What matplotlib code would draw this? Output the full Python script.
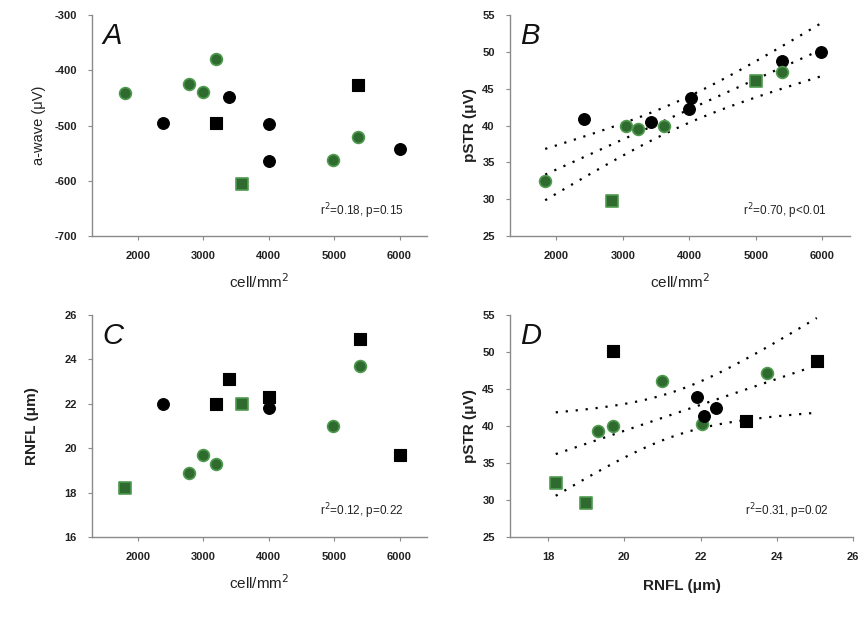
import numpy as np
import matplotlib.pyplot as plt

plt.rcParams['font.family'] = ['Liberation Sans', 'DejaVu Sans']
plt.rcParams['axes.unicode_minus'] = False

GREEN = '#2f6b2f'
GREEN_EDGE = '#4f9a4f'

# panel A: a-wave vs cell density
a_x = [1800, 2380, 2790, 3000, 3190, 3200, 3390, 3600, 4000, 4000, 4990, 5370, 5370, 6000]
a_y = [-442, -495, -424, -440, -380, -495, -449, -605, -498, -565, -562, -520, -427, -542]
a_c = ['g', 'k', 'g', 'g', 'g', 'k', 'k', 'g', 'k', 'k', 'g', 'g', 'k', 'k']
a_m = ['o', 'o', 'o', 'o', 'o', 's', 'o', 's', 'o', 'o', 'o', 'o', 's', 'o']

# panel B: pSTR vs cell density
b_x = [1830, 2420, 2830, 3040, 3220, 3420, 3620, 4030, 4000, 5010, 5400, 5400, 5980]
b_y = [32.5, 40.9, 29.7, 40.0, 39.5, 40.5, 40.0, 43.8, 42.2, 46.0, 48.8, 47.2, 50.0]
b_c = ['g', 'k', 'g', 'g', 'g', 'k', 'g', 'k', 'k', 'g', 'k', 'g', 'k']
b_m = ['o', 'o', 's', 'o', 'o', 'o', 'o', 'o', 'o', 's', 'o', 'o', 'o']

# panel C: RNFL vs cell density
c_x = [1800, 2380, 2790, 3000, 3190, 3190, 3390, 3600, 4000, 4000, 4990, 5390, 5390, 6000]
c_y = [18.2, 22.0, 18.9, 19.7, 19.3, 22.0, 23.1, 22.0, 22.3, 21.8, 21.0, 23.7, 24.9, 19.7]
c_c = ['g', 'k', 'g', 'g', 'g', 'k', 'k', 'g', 'k', 'k', 'g', 'g', 'k', 'k']
c_m = ['s', 'o', 'o', 'o', 'o', 's', 's', 's', 's', 'o', 'o', 'o', 's', 's']

# panel D: pSTR vs RNFL
d_x = [18.2, 19.0, 19.3, 19.7, 19.7, 21.0, 21.9, 22.05, 22.1, 22.4, 23.2, 23.75, 25.05]
d_y = [32.3, 29.6, 39.3, 40.0, 50.1, 46.1, 43.9, 40.3, 41.4, 42.4, 40.7, 47.1, 48.8]
d_c = ['g', 'g', 'g', 'g', 'k', 'g', 'k', 'g', 'k', 'k', 'k', 'g', 'k']
d_m = ['s', 's', 'o', 'o', 's', 'o', 'o', 'o', 'o', 'o', 's', 'o', 's']

stats = ['r$^2$=0.18, p=0.15', 'r$^2$=0.70, p<0.01',
         'r$^2$=0.12, p=0.22', 'r$^2$=0.31, p=0.02']
letters = ['A', 'B', 'C', 'D']


def draw_points(ax, xs, ys, cols, marks):
    for x, y, c, m in zip(xs, ys, cols, marks):
        if c == 'g':
            ax.scatter(x, y, s=72, marker=m, c=GREEN, edgecolors=GREEN_EDGE,
                       linewidths=1.2, zorder=3)
        else:
            ax.scatter(x, y, s=72, marker=m, c='black', edgecolors='black',
                       linewidths=0.8, zorder=3)


def draw_fit(ax, xs, ys):
    x = np.array(xs, dtype=float)
    y = np.array(ys, dtype=float)
    n = len(x)
    slope, icpt = np.polyfit(x, y, 1)
    resid = y - (slope * x + icpt)
    s = np.sqrt(np.sum(resid ** 2) / (n - 2))
    sxx = np.sum((x - x.mean()) ** 2)
    t = 2.2
    xx = np.linspace(x.min(), x.max(), 100)
    fit = slope * xx + icpt
    w = t * s * np.sqrt(1.0 / n + (xx - x.mean()) ** 2 / sxx)
    sty = dict(color='black', linestyle=(0, (1, 3.5)), linewidth=1.6, zorder=2)
    ax.plot(xx, fit, **sty)
    ax.plot(xx, fit + w, **sty)
    ax.plot(xx, fit - w, **sty)


def style(ax):
    for side in ['top', 'right']:
        ax.spines[side].set_visible(False)
    for side in ['left', 'bottom']:
        ax.spines[side].set_color('#8a8a8a')
        ax.spines[side].set_linewidth(1.0)
    ax.tick_params(direction='out', length=3, width=0.8, color='#8a8a8a',
                   labelsize=8, labelcolor='#222222', pad=8)
    for lab in ax.get_xticklabels() + ax.get_yticklabels():
        lab.set_fontweight('bold')


fig = plt.figure(figsize=(8.65, 6.17), dpi=100)
W, H = 865, 617

axA = fig.add_axes([92 / W, 1 - 236 / H, 335 / W, 221 / H])
axB = fig.add_axes([510 / W, 1 - 236 / H, 340 / W, 221 / H])
axC = fig.add_axes([92 / W, 1 - 537 / H, 335 / W, 222 / H])
axD = fig.add_axes([510 / W, 1 - 537 / H, 343 / W, 222 / H])
axes = [axA, axB, axC, axD]

draw_points(axA, a_x, a_y, a_c, a_m)
draw_points(axB, b_x, b_y, b_c, b_m)
draw_points(axC, c_x, c_y, c_c, c_m)
draw_points(axD, d_x, d_y, d_c, d_m)
draw_fit(axB, b_x, b_y)
draw_fit(axD, d_x, d_y)

cell_ticks = [2000, 3000, 4000, 5000, 6000]
for ax in [axA, axB, axC]:
    ax.set_xlim(1300, 6420)
    ax.set_xticks(cell_ticks)
    ax.set_xlabel('cell/mm$^2$', fontsize=11, labelpad=8, color='#222222')

axA.set_ylim(-700, -300)
axA.set_yticks([-700, -600, -500, -400, -300])
axA.set_ylabel('a-wave (\u03bcV)', fontsize=10.5, labelpad=6, color='#222222')

axB.set_ylim(25, 55)
axB.set_yticks([25, 30, 35, 40, 45, 50, 55])
axB.set_ylabel('pSTR (\u03bcV)', fontsize=11, fontweight='bold', labelpad=4,
               color='#222222')

axC.set_ylim(16, 26)
axC.set_yticks([16, 18, 20, 22, 24, 26])
axC.set_ylabel('RNFL (\u03bcm)', fontsize=11, fontweight='bold', labelpad=18,
               color='#222222')

axD.set_xlim(17, 26)
axD.set_xticks([18, 20, 22, 24, 26])
axD.set_ylim(25, 55)
axD.set_yticks([25, 30, 35, 40, 45, 50, 55])
axD.set_xlabel('RNFL (\u03bcm)', fontsize=11, fontweight='bold', labelpad=12,
               color='#222222')
axD.set_ylabel('pSTR (\u03bcV)', fontsize=11, fontweight='bold', labelpad=4,
               color='#222222')

for ax, letter, st in zip(axes, letters, stats):
    style(ax)
    ax.text(0.03, 0.97, letter, transform=ax.transAxes, fontsize=21,
            fontstyle='italic', va='top', ha='left', color='#111111')
    ax.text(0.93, 0.07, st, transform=ax.transAxes, fontsize=8.5,
            ha='right', va='bottom', color='#222222')

fig.savefig('out.png', dpi=100)
